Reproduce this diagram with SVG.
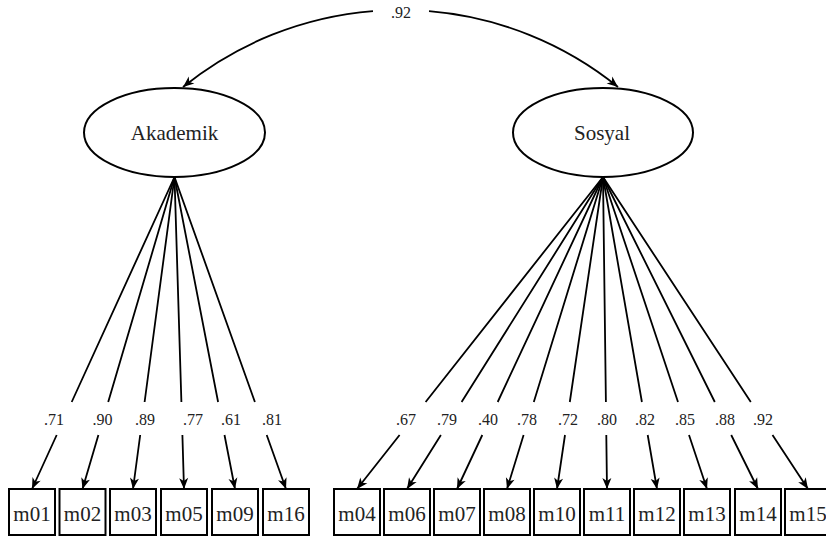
<svg xmlns="http://www.w3.org/2000/svg" width="826" height="537" viewBox="0 0 826 537">
<style>
.lat{fill:#fff;stroke:#000;stroke-width:2}
.obs{fill:#fff;stroke:#000;stroke-width:2}
.t{font-family:"Liberation Serif","Times New Roman",serif;fill:#222;text-anchor:middle}
.big{font-size:21px}
.lbl{font-size:16px}
.ln{fill:none;stroke:#000;stroke-width:1.8}
</style>
<defs>
<marker id="ah" viewBox="-12 -6 13 12" markerWidth="13" markerHeight="12" refX="0" refY="0" orient="auto" markerUnits="userSpaceOnUse">
<path d="M0,0 L-11,-4.5 L-8,0 L-11,4.5 Z" fill="#000"/>
</marker>
</defs>
<rect width="826" height="537" fill="#fff"/>
<g id="connectors">
<path class="ln" d="M373,11.1 A345.7,345.7 0 0 0 183,87" marker-end="url(#ah)"/>
<path class="ln" d="M429,11.2 A345.7,345.7 0 0 1 618,87" marker-end="url(#ah)"/>
<text class="t lbl" x="401" y="18">.92</text>
<path class="ln" d="M174.5,177 L71.7,402 M56.7,435 L32,489" marker-end="url(#ah)"/>
<path class="ln" d="M174.5,177 L108.2,402 M98.4,435 L82.5,489" marker-end="url(#ah)"/>
<path class="ln" d="M174.5,177 L144.6,402 M140.2,435 L133,489" marker-end="url(#ah)"/>
<path class="ln" d="M174.5,177 L181.4,402 M182.4,435 L184,489" marker-end="url(#ah)"/>
<path class="ln" d="M174.5,177 L218.1,402 M224.5,435 L235,489" marker-end="url(#ah)"/>
<path class="ln" d="M174.5,177 L254.9,402 M266.7,435 L286,489" marker-end="url(#ah)"/>
<text class="t lbl" x="54" y="425">.71</text>
<text class="t lbl" x="102.5" y="425">.90</text>
<text class="t lbl" x="145" y="425">.89</text>
<text class="t lbl" x="193" y="425">.77</text>
<text class="t lbl" x="231" y="425">.61</text>
<text class="t lbl" x="272" y="425">.81</text>
<path class="ln" d="M603,177 L425.6,402 M399.6,435 L357,489" marker-end="url(#ah)"/>
<path class="ln" d="M603,177 L461.6,402 M440.9,435 L407,489" marker-end="url(#ah)"/>
<path class="ln" d="M603,177 L497.7,402 M482.3,435 L457,489" marker-end="url(#ah)"/>
<path class="ln" d="M603,177 L533.8,402 M523.6,435 L507,489" marker-end="url(#ah)"/>
<path class="ln" d="M603,177 L569.8,402 M565,435 L557,489" marker-end="url(#ah)"/>
<path class="ln" d="M603,177 L605.9,402 M606.3,435 L607,489" marker-end="url(#ah)"/>
<path class="ln" d="M603,177 L641.9,402 M647.7,435 L657,489" marker-end="url(#ah)"/>
<path class="ln" d="M603,177 L678,402 M689,435 L707,489" marker-end="url(#ah)"/>
<path class="ln" d="M603,177 L714.8,402 M731.2,435 L758,489" marker-end="url(#ah)"/>
<path class="ln" d="M603,177 L750.8,402 M772.5,435 L808,489" marker-end="url(#ah)"/>
<text class="t lbl" x="406" y="425">.67</text>
<text class="t lbl" x="447" y="425">.79</text>
<text class="t lbl" x="488" y="425">.40</text>
<text class="t lbl" x="527" y="425">.78</text>
<text class="t lbl" x="568" y="425">.72</text>
<text class="t lbl" x="607" y="425">.80</text>
<text class="t lbl" x="645" y="425">.82</text>
<text class="t lbl" x="685" y="425">.85</text>
<text class="t lbl" x="725" y="425">.88</text>
<text class="t lbl" x="763" y="425">.92</text>
</g>
<g id="akademik"><ellipse class="lat" cx="174.5" cy="132.5" rx="90.5" ry="44.5"/><text class="t big" x="174.5" y="140">Akademik</text></g>
<g id="sosyal"><ellipse class="lat" cx="603" cy="132.5" rx="90" ry="44.5"/><text class="t big" x="602" y="140">Sosyal</text></g>
<g id="m01"><rect class="obs" x="9" y="489" width="46" height="46"/><text class="t big" x="32" y="521">m01</text></g>
<g id="m02"><rect class="obs" x="59.5" y="489" width="46" height="46"/><text class="t big" x="82.5" y="521">m02</text></g>
<g id="m03"><rect class="obs" x="110" y="489" width="46" height="46"/><text class="t big" x="133" y="521">m03</text></g>
<g id="m05"><rect class="obs" x="161" y="489" width="46" height="46"/><text class="t big" x="184" y="521">m05</text></g>
<g id="m09"><rect class="obs" x="212" y="489" width="46" height="46"/><text class="t big" x="235" y="521">m09</text></g>
<g id="m16"><rect class="obs" x="263" y="489" width="46" height="46"/><text class="t big" x="286" y="521">m16</text></g>
<g id="m04"><rect class="obs" x="334" y="489" width="46" height="46"/><text class="t big" x="357" y="521">m04</text></g>
<g id="m06"><rect class="obs" x="384" y="489" width="46" height="46"/><text class="t big" x="407" y="521">m06</text></g>
<g id="m07"><rect class="obs" x="434" y="489" width="46" height="46"/><text class="t big" x="457" y="521">m07</text></g>
<g id="m08"><rect class="obs" x="484" y="489" width="46" height="46"/><text class="t big" x="507" y="521">m08</text></g>
<g id="m10"><rect class="obs" x="534" y="489" width="46" height="46"/><text class="t big" x="557" y="521">m10</text></g>
<g id="m11"><rect class="obs" x="584" y="489" width="46" height="46"/><text class="t big" x="607" y="521">m11</text></g>
<g id="m12"><rect class="obs" x="634" y="489" width="46" height="46"/><text class="t big" x="657" y="521">m12</text></g>
<g id="m13"><rect class="obs" x="684" y="489" width="46" height="46"/><text class="t big" x="707" y="521">m13</text></g>
<g id="m14"><rect class="obs" x="735" y="489" width="46" height="46"/><text class="t big" x="758" y="521">m14</text></g>
<g id="m15"><rect class="obs" x="785" y="489" width="46" height="46"/><text class="t big" x="808" y="521">m15</text></g>
</svg>
